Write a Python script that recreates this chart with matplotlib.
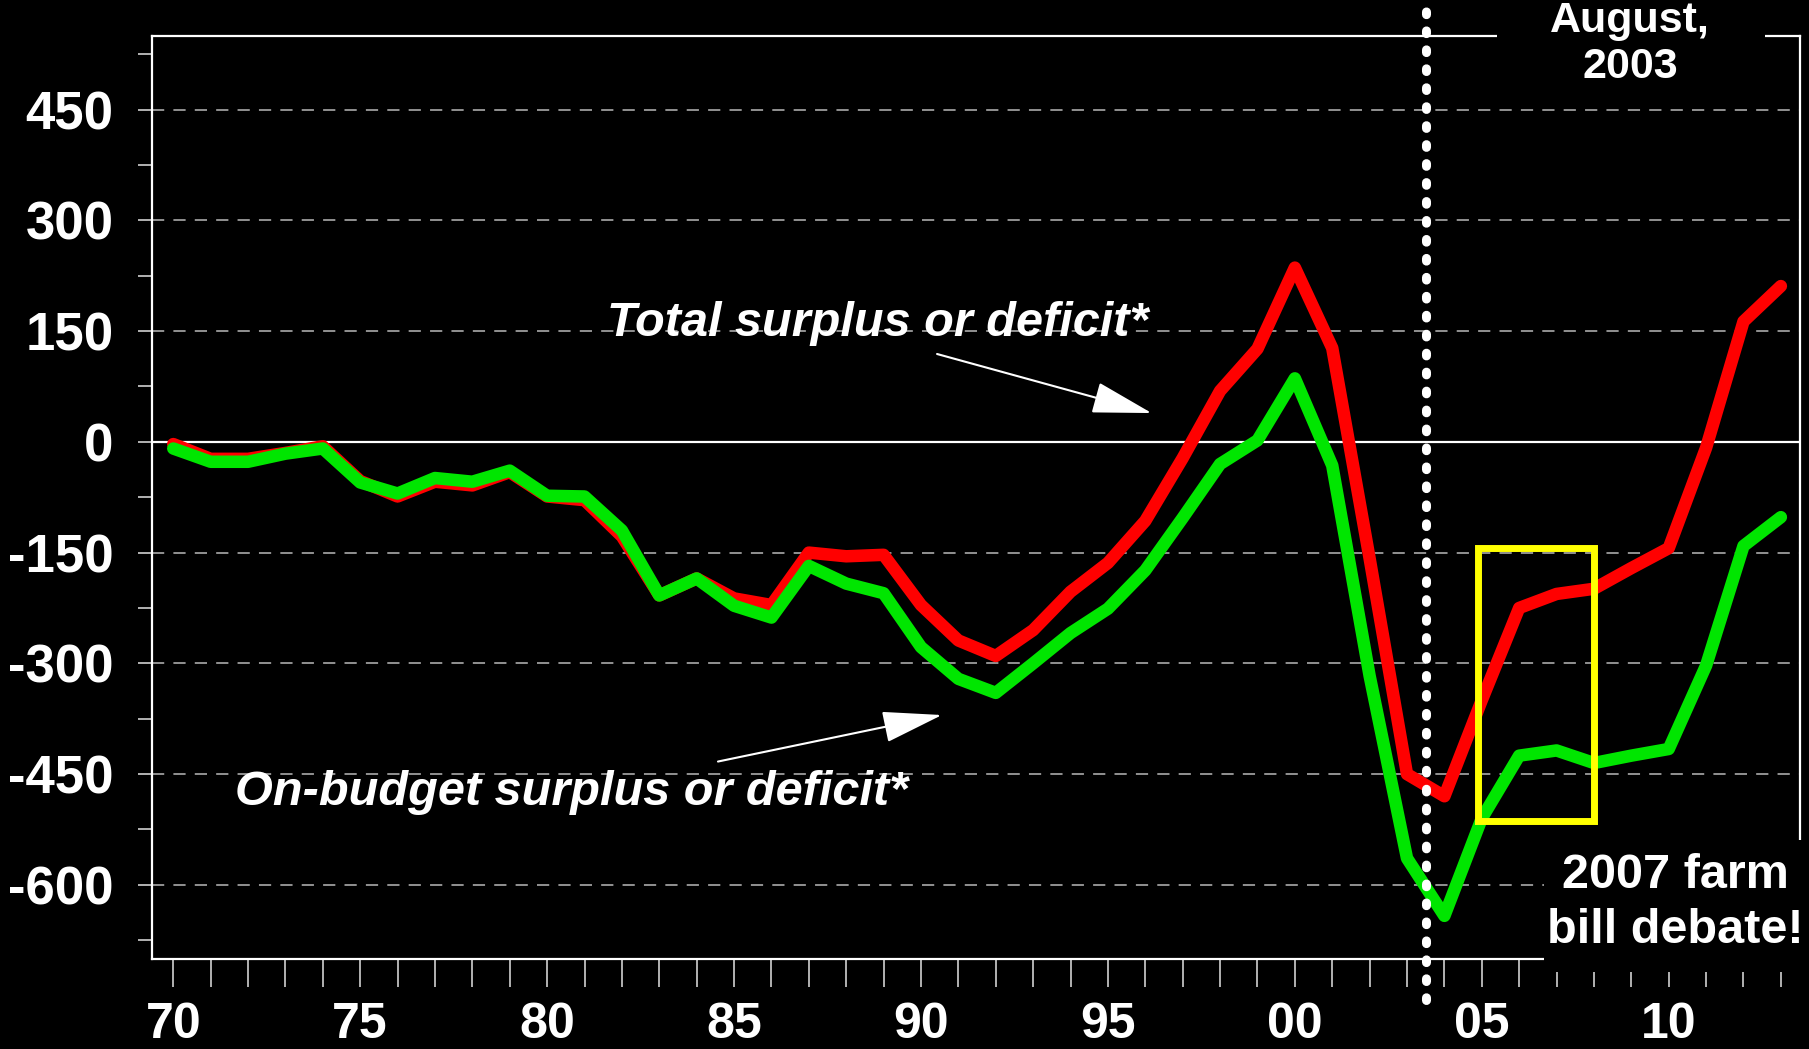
import matplotlib
matplotlib.use('Agg')
import matplotlib.pyplot as plt
from matplotlib.patches import Rectangle

plt.rcParams['font.family'] = ['Liberation Sans', 'DejaVu Sans']
plt.rcParams['axes.unicode_minus'] = False

# fiscal years and CBO (Aug 2003) balances, $ billions
years = list(range(1970, 2014))
total = [-3, -23, -23, -15, -6, -53, -74, -54, -59, -41,
         -74, -79, -128, -208, -185, -212, -221, -150, -155, -153,
         -221, -269, -290, -255, -203, -164, -107, -22, 69, 126,
         236, 127, -158, -450, -480, -350, -225, -206, -199, -171,
         -144, -8, 163, 211]
on_budget = [-9, -27, -27, -16, -9, -55, -70, -49, -54, -39,
             -73, -74, -120, -208, -185, -222, -238, -168, -192, -205,
             -278, -321, -340, -300, -259, -226, -174, -103, -30, 2,
             86, -32, -317, -564, -642, -510, -425, -418, -435, -425,
             -416, -303, -141, -102]

ytick_vals = [-600, -450, -300, -150, 0, 150, 300, 450]
xtick_vals = [1970, 1975, 1980, 1985, 1990, 1995, 2000, 2005, 2010]
xtick_labels = ['70', '75', '80', '85', '90', '95', '00', '05', '10']

fig = plt.figure(figsize=(18.09, 10.49), dpi=100, facecolor='black')
ax = fig.add_axes([0.0842, 0.0861, 0.911, 0.8798], facecolor='black')

# grid
for v in ytick_vals:
    if v == 0:
        ax.axhline(0, color='white', lw=1.6, zorder=1)
    else:
        ax.axhline(v, color='#b8b8b8', lw=1.1, ls=(0, (8, 6)), zorder=1)

ax.plot(years, total, color='#ff0000', lw=9, solid_joinstyle='round',
        solid_capstyle='round', zorder=3)
ax.plot(years, on_budget, color='#00e600', lw=9, solid_joinstyle='round',
        solid_capstyle='round', zorder=4)

# August 2003 marker
ax.plot([2003.5, 2003.5], [-756, 600], color='white', lw=6.5,
        ls=(0, (0.3, 1.8)), dash_capstyle='round', clip_on=False, zorder=5)

# yellow box around 2005-2007
ax.add_patch(Rectangle((2004.9, -514), 3.1, 370, fill=False,
                       edgecolor='#ffff00', lw=5, zorder=6))

ax.set_xlim(1969.44, 2013.52)
ax.set_ylim(-700, 550)

ax.set_yticks(ytick_vals)
ax.set_yticks([-675, -525, -375, -225, -75, 75, 225, 375, 525], minor=True)
ax.set_xticks(xtick_vals)
ax.set_xticklabels(xtick_labels)
ax.set_xticks(years, minor=True)

ax.tick_params(axis='y', which='both', direction='out', length=10, width=1.2,
               color='#d0d0d0', pad=18, labelsize=38, labelcolor='white')
ax.tick_params(axis='x', which='both', direction='out', length=20, width=1.2,
               color='#d0d0d0', pad=11, labelsize=36, labelcolor='white')
for lab in ax.get_xticklabels() + ax.get_yticklabels():
    lab.set_fontweight('bold')

for s in ax.spines.values():
    s.set_color('white')
    s.set_linewidth(1.6)

# labels and arrows
ax.text(1988.83, 160, 'Total surplus or deficit*', color='white',
        fontsize=35, fontweight='bold', fontstyle='italic',
        ha='center', va='center', zorder=7)
ax.text(1980.65, -475, 'On-budget surplus or deficit*', color='white',
        fontsize=35, fontweight='bold', fontstyle='italic',
        ha='center', va='center', zorder=7)
arrow = dict(arrowstyle='-|>,head_length=1.9,head_width=0.5', color='white',
             lw=1.5, mutation_scale=20, shrinkA=0, shrinkB=0)
ax.annotate('', xy=(1996.17, 39), xytext=(1990.43, 119), arrowprops=arrow, zorder=7)
ax.annotate('', xy=(1990.56, -370), xytext=(1984.57, -433), arrowprops=arrow, zorder=7)

# black patches that cut the frame under the side notes
fig.patches.append(Rectangle((0.8275, 0.9237), 0.148, 0.0763, transform=fig.transFigure,
                             facecolor='black', edgecolor='none', zorder=10))
fig.patches.append(Rectangle((0.8535, 0.0734), 0.1465, 0.1258, transform=fig.transFigure,
                             facecolor='black', edgecolor='none', zorder=10))

fig.text(0.901, 0.958, 'August,\n2003', color='white', fontsize=31,
         fontweight='bold', ha='center', va='center', linespacing=1.2, zorder=11)
fig.text(0.926, 0.139, '2007 farm\nbill debate!', color='white', fontsize=35,
         fontweight='bold', ha='center', va='center', linespacing=1.3, zorder=11)

fig.savefig('out.png', dpi=100, facecolor='black')
